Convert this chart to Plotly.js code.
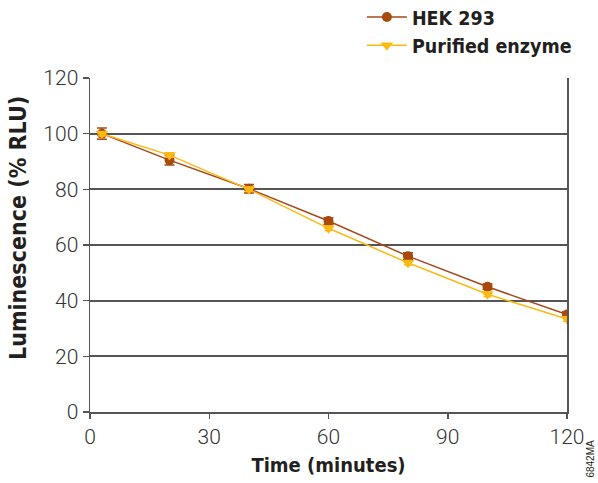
<!DOCTYPE html>
<html>
<head>
<meta charset="utf-8">
<script src="https://cdn.plot.ly/plotly-3.0.1.min.js"></script>
<style>html,body{margin:0;padding:0;background:#fff}#chart{width:598px;height:483px}</style>
</head>
<body>
<div id="chart"></div>
<script>
const timeMinutes = [3, 20, 40, 60, 80, 100, 120];
const hek293 = [100, 90.5, 80.2, 68.6, 56.0, 45.0, 35.0];
const hek293Err = [2.0, 1.8, 1.5, 1.2, 1.2, 1.0, 1.0];
const purified = [100, 92.3, 80.0, 66.0, 53.6, 42.3, 33.4];
const purifiedErr = [0.8, 0.8, 0.8, 0.8, 0.8, 0.8, 0.8];
const yTicks = [0, 20, 40, 60, 80, 100, 120];
const xTicks = [0, 30, 60, 90, 120];

const brown = '#a4481a';
const gold = '#fdb913';
const fam = 'DejaVu Sans Condensed, Liberation Sans, sans-serif';
const titleFont = {family: fam, size: 20, color: '#231f20', weight: 700};
const legendFont = {family: fam, size: 19.5, color: '#231f20', weight: 700};
const yTitleFont = {family: fam, size: 23, color: '#231f20', weight: 700};
const tickFont = {family: 'Roboto, Liberation Sans, sans-serif', size: 21, color: '#333', weight: 300};

const traces = [
  {
    x: timeMinutes, y: hek293, name: 'HEK 293', type: 'scatter', mode: 'lines+markers',
    line: {color: brown, width: 1.5},
    marker: {symbol: 'circle', size: 10, color: '#a84a0c'},
    error_y: {type: 'data', array: hek293Err, visible: true, color: brown, thickness: 1.5, width: 5}
  },
  {
    x: timeMinutes, y: purified, name: 'Purified enzyme', type: 'scatter', mode: 'lines+markers',
    line: {color: gold, width: 1.5},
    marker: {symbol: 'triangle-down', size: 11, color: gold},
    error_y: {type: 'data', array: purifiedErr, visible: true, color: gold, thickness: 1.5, width: 4}
  }
];

const layout = {
  width: 598, height: 483,
  margin: {l: 90, r: 31, t: 78, b: 71, autoexpand: false},
  paper_bgcolor: '#fff', plot_bgcolor: '#fff',
  showlegend: true,
  legend: {
    x: 0.57, y: 1.24, xanchor: 'left', yanchor: 'top',
    font: legendFont, tracegroupgap: 0, itemwidth: 40,
    bgcolor: 'rgba(0,0,0,0)'
  },
  xaxis: {
    range: [0, 120], tickvals: xTicks, ticktext: xTicks.map(String),
    showgrid: false, zeroline: false,
    showline: true, linecolor: '#555', linewidth: 1.5, mirror: false,
    ticks: 'outside', ticklen: 5, tickwidth: 1.5, tickcolor: '#555',
    tickfont: tickFont,
    title: {text: 'Time (minutes)', font: titleFont, standoff: 10}
  },
  yaxis: {
    range: [0, 120], tickvals: yTicks, ticktext: yTicks.map(String),
    showgrid: true, gridcolor: '#555', gridwidth: 2, zeroline: false,
    showline: true, linecolor: '#555', linewidth: 1.5, mirror: true,
    ticks: 'outside', ticklen: 6, tickwidth: 1.5, tickcolor: '#555',
    tickfont: tickFont
  },
  annotations: [
    {
      text: 'Luminescence (% RLU)', xref: 'paper', yref: 'paper', x: 0, xshift: -72, y: 0.551,
      xanchor: 'center', yanchor: 'middle', textangle: -90, showarrow: false,
      font: yTitleFont
    },
    {
      text: '6842MA', xref: 'paper', yref: 'paper', x: 1.05, y: -0.14,
      xanchor: 'center', yanchor: 'middle', textangle: -90, showarrow: false,
      font: {family: 'Liberation Sans, Arial, sans-serif', size: 10, color: '#231f20'}
    }
  ]
};

Plotly.newPlot('chart', traces, layout, {displayModeBar: false, staticPlot: true});
</script>
</body>
</html>
